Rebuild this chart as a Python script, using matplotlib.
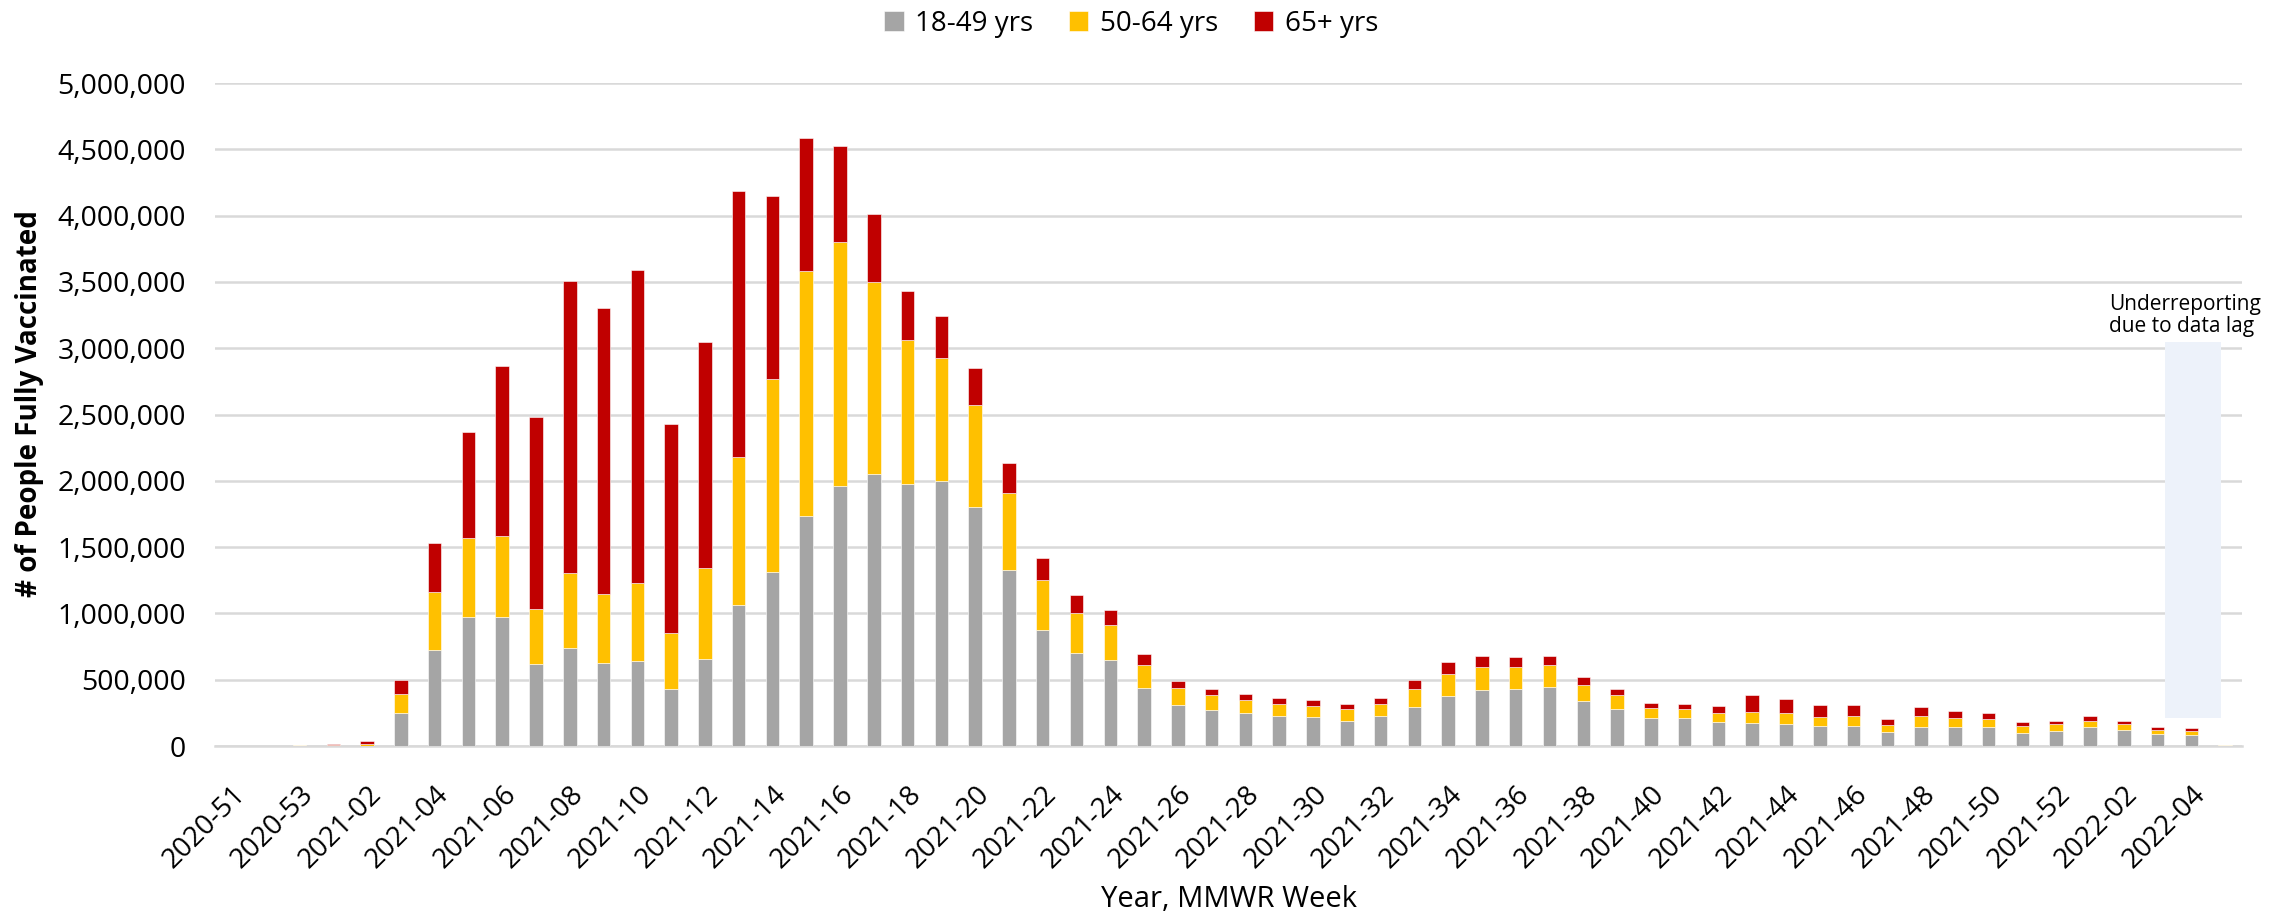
import numpy as np
import matplotlib
matplotlib.use("Agg")
import matplotlib.pyplot as plt
from matplotlib.patches import Rectangle
from matplotlib.ticker import FuncFormatter, MultipleLocator

plt.rcParams["font.family"] = ["Open Sans", "DejaVu Sans"]

weeks = [
    "2020-51", "2020-52", "2020-53",
    "2021-01", "2021-02", "2021-03", "2021-04", "2021-05", "2021-06", "2021-07",
    "2021-08", "2021-09", "2021-10", "2021-11", "2021-12", "2021-13", "2021-14",
    "2021-15", "2021-16", "2021-17", "2021-18", "2021-19", "2021-20", "2021-21",
    "2021-22", "2021-23", "2021-24", "2021-25", "2021-26", "2021-27", "2021-28",
    "2021-29", "2021-30", "2021-31", "2021-32", "2021-33", "2021-34", "2021-35",
    "2021-36", "2021-37", "2021-38", "2021-39", "2021-40", "2021-41", "2021-42",
    "2021-43", "2021-44", "2021-45", "2021-46", "2021-47", "2021-48", "2021-49",
    "2021-50", "2021-51", "2021-52",
    "2022-01", "2022-02", "2022-03", "2022-04", "2022-05",
]

# people fully vaccinated, thousands
age_18_49 = [
    0, 0, 2, 2, 3, 246, 726, 972, 976, 616,
    739, 624, 638, 427, 660, 1061, 1309, 1733, 1959, 2050,
    1979, 1999, 1804, 1328, 873, 705, 647, 435, 310, 270,
    246, 223, 216, 192, 223, 292, 380, 420, 429, 447,
    340, 281, 210, 210, 180, 172, 163, 148, 148, 104,
    145, 142, 142, 98, 112, 142, 121, 92, 83, 3,
]
age_50_64 = [
    0, 0, 2, 3, 10, 145, 435, 598, 607, 417,
    563, 524, 589, 422, 681, 1117, 1458, 1848, 1841, 1453,
    1086, 924, 768, 584, 381, 300, 263, 179, 125, 111,
    101, 94, 84, 88, 91, 138, 165, 176, 166, 162,
    122, 104, 74, 71, 69, 82, 83, 71, 77, 53,
    83, 71, 65, 50, 51, 50, 45, 32, 32, 1,
]
age_65_plus = [
    0, 0, 3, 10, 25, 110, 369, 800, 1280, 1447,
    2203, 2155, 2366, 1583, 1706, 2010, 1383, 1008, 728, 506,
    364, 317, 280, 226, 162, 135, 115, 77, 57, 51,
    44, 47, 44, 37, 47, 71, 85, 83, 74, 71,
    56, 47, 38, 36, 53, 131, 112, 92, 83, 44,
    65, 50, 44, 32, 29, 33, 23, 21, 18, 1,
]

series = ["18-49 yrs", "50-64 yrs", "65+ yrs"]
colors = ["#A5A5A5", "#FFC000", "#C00000"]

lag_week = "2022-04"
lag_note = "Underreporting\ndue to data lag"

x = np.arange(len(weeks))
g = np.array(age_18_49) * 1000
y = np.array(age_50_64) * 1000
r = np.array(age_65_plus) * 1000

fig = plt.figure(figsize=(22.85, 9.14), dpi=100)
ax = fig.add_axes([0.0941, 0.1838, 0.8871, 0.7253])

bw = 0.4
ax.bar(x, g, bw, color=colors[0], label=series[0], edgecolor="white", linewidth=0.4, zorder=3)
ax.bar(x, y, bw, bottom=g, color=colors[1], label=series[1], edgecolor="white", linewidth=0.4, zorder=3)
ax.bar(x, r, bw, bottom=g + y, color=colors[2], label=series[2], edgecolor="white", linewidth=0.4, zorder=3)

# shaded data-lag box
li = weeks.index(lag_week)
ax.add_patch(Rectangle((li - 0.78, 210000), 1.66, 2840000, facecolor="#EDF2FA",
                       edgecolor="none", zorder=1))
ax.text(li - 2.43, 3250000, lag_note, fontsize=15, ha="left", va="center",
        linespacing=1.05, clip_on=False, zorder=4)

ax.set_xlim(-0.5, len(weeks) - 0.5)
ax.set_ylim(0, 5000000)
ax.yaxis.set_major_locator(MultipleLocator(500000))
ax.yaxis.set_major_formatter(FuncFormatter(lambda v, p: f"{int(v):,}"))
ax.grid(axis="y", color="#D9D9D9", linewidth=1.8, zorder=0)
ax.set_axisbelow(True)

ax.set_xticks(x[::2])
ax.set_xticklabels(weeks[::2], rotation=45, ha="right", rotation_mode="anchor")
ax.tick_params(axis="x", length=0, pad=25, labelsize=20)
ax.tick_params(axis="y", length=0, pad=21, labelsize=20.5)

for s in ["top", "right", "left"]:
    ax.spines[s].set_visible(False)
ax.spines["bottom"].set_color("#D9D9D9")
ax.spines["bottom"].set_linewidth(1.8)

ax.set_xlabel("Year, MMWR Week", fontsize=21, labelpad=8)
fig.text(0.0131, 0.558, "# of People Fully Vaccinated", rotation=90,
         fontsize=20, fontweight="bold", ha="center", va="center")

fig.legend(loc="center", bbox_to_anchor=(0.495, 0.974), ncol=3, frameon=False,
           fontsize=20, handlelength=0.7, handleheight=0.7, handletextpad=0.4,
           columnspacing=1.3)

fig.savefig("out.png", dpi=100)
